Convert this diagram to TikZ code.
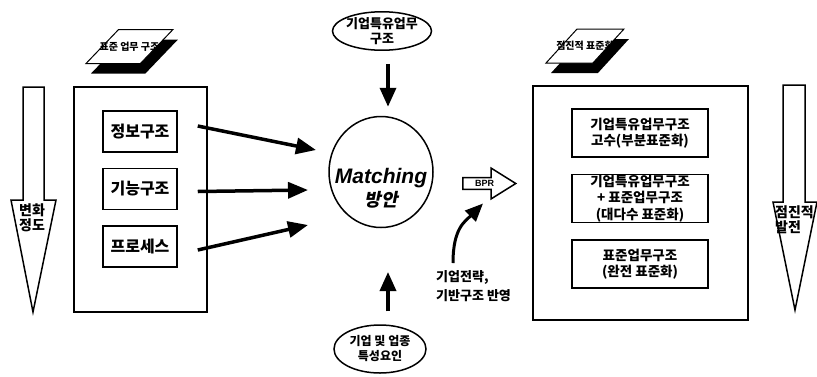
\documentclass[tikz,border=0pt]{standalone}
\usepackage{fontspec}
\setmainfont{Noto Sans CJK KR}
\newfontfamily\latinsans{Liberation Sans}
\newfontfamily\krslant[FakeSlant=0.2]{Noto Sans CJK KR}
\usetikzlibrary{positioning, arrows.meta, shapes.geometric, shapes.arrows, shadows}

\tikzset{
  panel/.style={draw, line width=1.5pt},
  unit/.style={draw, line width=1.5pt, minimum width=74pt, minimum height=41pt, inner sep=0pt,
    font=\bfseries\fontsize{16}{18}\selectfont},
  stage/.style={draw, line width=1.5pt, minimum width=136pt, minimum height=48pt, inner sep=0pt,
    align=center, font=\bfseries\fontsize{13.5}{16.5}\selectfont},
  tag/.style={trapezium, trapezium left angle=65, trapezium right angle=115, trapezium stretches=true,
    draw, fill=white, line width=1pt, minimum height=34pt, inner xsep=-25pt, inner ysep=11pt,
    font=\bfseries\fontsize{10}{10}\selectfont,
    general shadow={shadow xshift=5pt, shadow yshift=-10pt, fill=black}},
  source/.style={ellipse, draw, line width=1.5pt, inner xsep=-4pt, inner ysep=0pt, align=center,
    font=\bfseries\fontsize{13}{15}\selectfont},
  bigarrow/.style={line width=3.5pt, -{Triangle[length=20pt,width=16pt]}},
  fatshape/.style={draw, line width=1.5pt, fill=white},
  sidenote/.style={align=center, inner sep=0pt, font=\bfseries\fontsize{14}{15}\selectfont}
}

\begin{document}
\begin{tikzpicture}[x=1pt, y=-1pt]
\useasboundingbox (0,0) rectangle (817,376);

\draw[fatshape] (23,87) -- (44,87) -- (44,200) -- (56,200) -- (33,312) -- (11,200) -- (23,200) -- cycle;
\node[sidenote] (change) at (32,218) {변화\\정도};
\draw[fatshape] (783,85) -- (805,85) -- (805,202) -- (817,202) -- (795,310) -- (773,202) -- (783,202) -- cycle;
\node[sidenote, align=left, anchor=west] (growth) at (775,220) {점진적\\발전};

\node[panel, minimum width=133pt, minimum height=225pt] (stdpanel) at (140.5,199.5) {};
\node[tag, minimum width=87pt] (stdtag) at (129.5,46.5) {표준 업무 구조};
\node[unit] (info) at (140,131.5) {정보구조};
\node[unit, below=15pt of info] (func) {기능구조};
\node[unit, below=15pt of func] (proc) {프로세스};

\node[panel, minimum width=215pt, minimum height=234pt] (steppanel) at (640.5,203) {};
\node[tag, minimum width=78pt] (steptag) at (585,46) {점진적 표준화};
\node[stage] (partial) at (640,133) {기업특유업무구조\\고수(부분표준화)};
\node[stage, below=16pt of partial] (mixed) {기업특유업무구조\\+ 표준업무구조\\(대다수 표준화)};
\node[stage, below=16pt of mixed] (full) {표준업무구조\\(완전 표준화)};

\node[ellipse, draw, line width=1.5pt, minimum width=104pt, minimum height=111pt] (match) at (381,172) {};
\node[align=center, inner sep=0pt] (matchtxt) at (381,188)
  {{\latinsans\bfseries\itshape\fontsize{21}{21}\selectfont Matching}\\[2pt]
   {\krslant\bfseries\fontsize{18}{18}\selectfont 방안}};
\node[source, minimum width=99pt, minimum height=38pt] (firm) at (382,31) {기업특유업무\\구조};
\node[source, minimum width=92pt, minimum height=48pt, font=\bfseries\fontsize{12}{15}\selectfont]
  (trait) at (380,349) {기업 및 업종\\특성요인};

\coordinate (inA) at (316,150);
\coordinate (inB) at (308,190);
\coordinate (inC) at (308,225);
\coordinate (upTip) at (388,272);
\draw[bigarrow] ([shift={(20,-5.5)}]info.east) -- (inA);
\draw[bigarrow] ([shift={(20,2.5)}]func.east) -- (inB);
\draw[bigarrow] ([shift={(20,3.5)}]proc.east) -- (inC);
\draw[bigarrow, -{Triangle[length=19pt,width=16pt]}] ([shift={(6,13)}]firm.south) -- ([shift={(7,-9)}]match.north);
\draw[bigarrow, -{Triangle[length=19pt,width=16pt]}] ([shift={(8,-13)}]trait.north) -- (upTip);

\node[single arrow, draw, line width=1.5pt, anchor=tail, minimum height=53pt, minimum width=30pt,
  single arrow head extend=9.5pt, single arrow tip angle=64, inner xsep=2pt, inner ysep=2pt,
  font=\latinsans\bfseries\fontsize{9}{9}\selectfont] (bpr) at (462,183.5) {BPR};
\node[align=left, anchor=north west, inner sep=0pt, font=\bfseries\fontsize{13}{19}\selectfont]
  (strat) at (436,270) {기업전략,\\기반구조 반영};
\draw[line width=3pt, -{Triangle[length=18pt,width=15pt]}] ([shift={(17,-7)}]strat.north west)
  .. controls +(0,-35) and +(-18,18) .. ([shift={(21,20)}]bpr.tail);
\end{tikzpicture}
\end{document}
